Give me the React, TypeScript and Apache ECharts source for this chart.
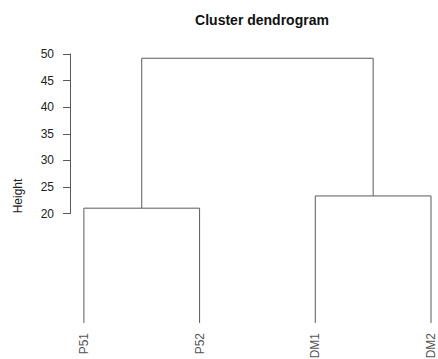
import React, { useEffect, useRef } from "react";
import * as echarts from "echarts";

const leafLabels = ["P51", "P52", "DM1", "DM2"];
const leafHeight = -0.6;
// hclust-style merges: negative = leaf (1-based), positive = earlier merge (1-based)
const merges: [number, number][] = [
  [-1, -2],
  [-3, -4],
  [1, 2],
];
const mergeHeights = [21.0, 23.3, 49.2];
const yTicksMin = 20;
const yTicksMax = 50;
const yTickStep = 5;

function buildLinks() {
  const pos: number[] = [];
  const h: number[] = [];
  const nodeX = (id: number) => (id < 0 ? -id : pos[id - 1]);
  const nodeH = (id: number) => (id < 0 ? leafHeight : h[id - 1]);
  const links: number[][][] = [];
  merges.forEach((m, i) => {
    const [a, b] = m;
    const xa = nodeX(a);
    const xb = nodeX(b);
    const hm = mergeHeights[i];
    links.push([
      [xa, nodeH(a)],
      [xa, hm],
      [xb, hm],
      [xb, nodeH(b)],
    ]);
    pos.push((xa + xb) / 2);
    h.push(hm);
  });
  return links;
}

export default function App() {
  const ref = useRef<HTMLDivElement>(null);
  useEffect(() => {
    document.body.style.margin = "0";
    if (!ref.current) return;
    const chart = echarts.init(ref.current, undefined, { renderer: "svg" });
    const lineColor = "#5a5a5a";
    const textColor = "#222";
    const font = "Liberation Sans, Arial, sans-serif";
    const links = buildLinks();
    chart.setOption({
      animation: false,
      backgroundColor: "#ffffff",
      title: {
        text: "Cluster dendrogram",
        left: 257,
        textAlign: "center",
        top: 8,
        textStyle: { fontFamily: font, fontSize: 14, fontWeight: "bold", color: "#111" },
      },
      graphic: [
        {
          type: "text",
          x: 18,
          y: 196,
          rotation: Math.PI / 2,
          style: {
            text: "Height",
            fontFamily: font,
            fontSize: 12,
            fill: textColor,
            align: "center",
            verticalAlign: "middle",
          },
        },
      ],
      grid: [
        { left: 70, top: 54, width: 10, height: 159.5 },
        { left: 70, right: 7, top: 54, bottom: 12.6 },
      ],
      xAxis: [
        { gridIndex: 0, type: "value", show: false, min: 0, max: 1 },
        { gridIndex: 1, type: "value", show: false, min: 0.88, max: 4 },
      ],
      yAxis: [
        {
          gridIndex: 0,
          type: "value",
          min: yTicksMin,
          max: yTicksMax,
          interval: yTickStep,
          axisLine: { show: true, lineStyle: { color: lineColor, width: 1 } },
          axisTick: { show: true, length: 7, lineStyle: { color: lineColor, width: 1 } },
          splitLine: { show: false },
          axisLabel: { fontFamily: font, fontSize: 12, color: textColor, margin: 16 },
        },
        { gridIndex: 1, type: "value", show: false, min: -5, max: 50 },
      ],
      series: [
        ...links.map((pts) => ({
          type: "line",
          xAxisIndex: 1,
          yAxisIndex: 1,
          data: pts,
          symbol: "none",
          silent: true,
          lineStyle: { color: lineColor, width: 1 },
        })),
        {
          type: "scatter",
          xAxisIndex: 1,
          yAxisIndex: 1,
          symbolSize: 0,
          silent: true,
          data: leafLabels.map((l, i) => ({ value: [i + 1, leafHeight], name: l })),
          label: {
            show: true,
            position: [0, 10],
            rotate: 90,
            align: "right",
            verticalAlign: "middle",
            formatter: (p: any) => p.name,
            fontFamily: font,
            fontSize: 12,
            color: textColor,
          },
        },
      ],
    });
    return () => chart.dispose();
  }, []);
  return <div ref={ref} style={{ width: 438, height: 359 }} />;
}
